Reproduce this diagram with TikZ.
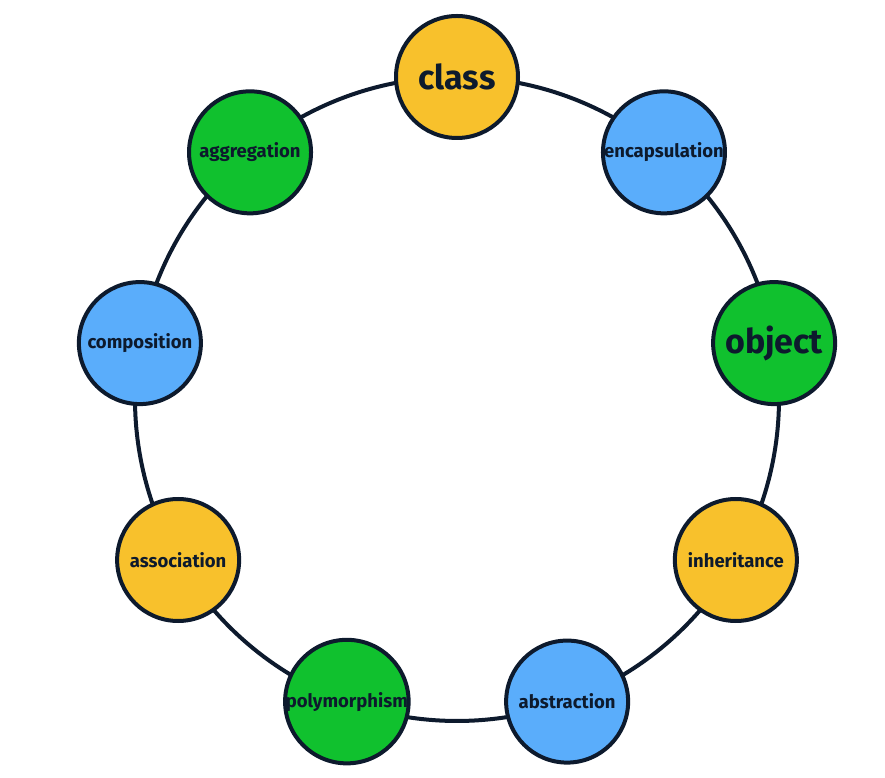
\documentclass[tikz,border=0pt]{standalone}
\usepackage{fontspec}
\setmainfont{Fira Sans}
\usepackage{tikz}
\usetikzlibrary{backgrounds}
\definecolor{ink}{HTML}{0D1A2D}
\definecolor{cyellow}{HTML}{F8C12C}
\definecolor{cblue}{HTML}{5AADFB}
\definecolor{cgreen}{HTML}{10C12E}
\tikzset{
  concept/.style={circle, draw=ink, line width=4pt, minimum size=122pt, inner sep=0pt, text=ink, font=\bfseries\fontsize{18.5}{21}\selectfont},
  bigconcept/.style={concept, font=\bfseries\fontsize{34}{38}\selectfont},
  ring/.style={draw=ink, line width=4pt, bend left=20, looseness=0.88}
}

\begin{document}
\begin{tikzpicture}[x=1pt, y=1pt]
\useasboundingbox (-457,-379) rectangle (428,399);
\node[bigconcept, fill=cyellow] (class) at (90:322)  {class};
\node[concept, fill=cblue] (encap) at (50:322)  {encapsulation};
\node[bigconcept, fill=cgreen] (object) at (10:322)  {object};
\node[concept, fill=cyellow] (inherit) at (-30:322) {inheritance};
\node[concept, fill=cblue] (abstr) at (-70:322) {abstraction};
\node[concept, fill=cgreen] (poly) at (-110:322) {polymorphism};
\node[concept, fill=cyellow] (assoc) at (-150:322) {association};
\node[concept, fill=cblue] (compos) at (170:322) {composition};
\node[concept, fill=cgreen] (aggreg) at (130:322) {aggregation};

\begin{pgfonlayer}{background}
\draw[ring] (class.center) to (encap.center);
\draw[ring] (encap.center) to (object.center);
\draw[ring] (object.center) to (inherit.center);
\draw[ring] (inherit.center) to (abstr.center);
\draw[ring] (abstr.center) to (poly.center);
\draw[ring] (poly.center) to (assoc.center);
\draw[ring] (assoc.center) to (compos.center);
\draw[ring] (compos.center) to (aggreg.center);
\draw[ring] (aggreg.center) to (class.center);
\end{pgfonlayer}
\end{tikzpicture}
\end{document}
